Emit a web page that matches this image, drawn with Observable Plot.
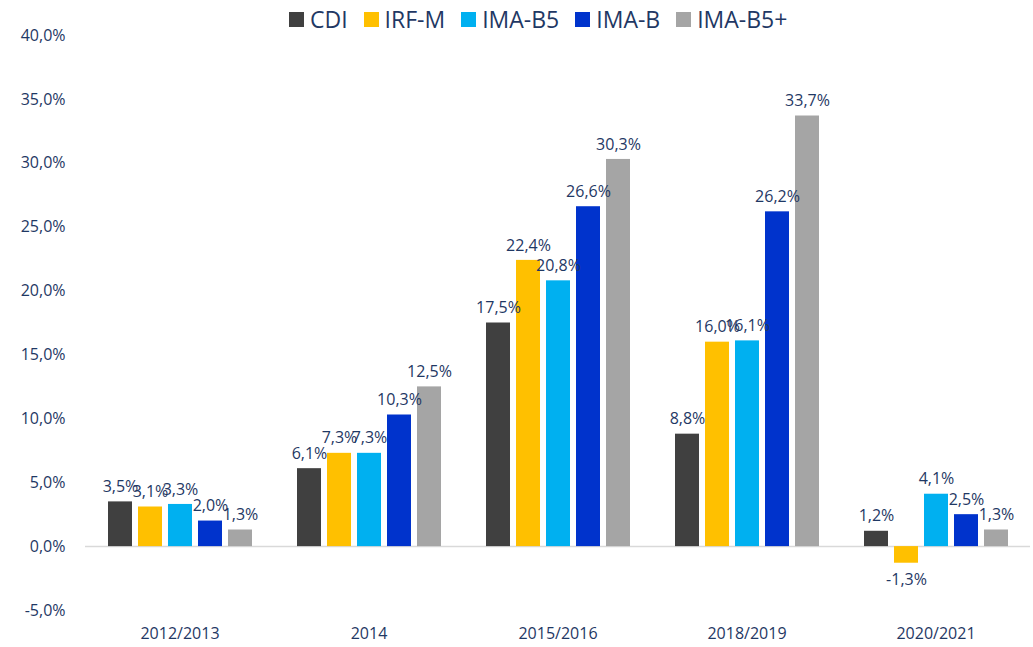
<!DOCTYPE html>
<html>
<head>
<meta charset="utf-8">
<script src="https://cdn.jsdelivr.net/npm/d3@7"></script>
<script src="https://cdn.jsdelivr.net/npm/@observablehq/plot@0.6"></script>
<style>
  html, body { margin: 0; padding: 0; background: #fff; }
  #wrap { position: relative; width: 1033px; height: 647px; font-family: "Open Sans", "Noto Sans", sans-serif; }
  #legend { position: absolute; top: 3px; left: 289px; display: flex; gap: 16px; color: #1F3864; font-size: 23px; }
  #legend .item { display: flex; align-items: center; gap: 6px; }
  #legend .sw { width: 15px; height: 15px; display: inline-block; }
</style>
</head>
<body>
<div id="wrap"><div id="legend"></div><div id="chart"></div></div>
<script>
const categories = ["2012/2013", "2014", "2015/2016", "2018/2019", "2020/2021"];
const seriesNames = ["CDI", "IRF-M", "IMA-B5", "IMA-B", "IMA-B5+"];
const colors = ["#404040", "#FFC000", "#00B0F0", "#0033CC", "#A5A5A5"];
const cdi    = [3.5, 6.1, 17.5, 8.8, 1.2];
const irfm   = [3.1, 7.3, 22.4, 16.0, -1.3];
const imab5  = [3.3, 7.3, 20.8, 16.1, 4.1];
const imab   = [2.0, 10.3, 26.6, 26.2, 2.5];
const imab5p = [1.3, 12.5, 30.3, 33.7, 1.3];
const yTicks = [-5, 0, 5, 10, 15, 20, 25, 30, 35, 40];

const seriesValues = [cdi, irfm, imab5, imab, imab5p];
const data = [];
categories.forEach((c, i) => seriesNames.forEach((s, j) => data.push({cat: c, series: s, value: seriesValues[j][i]})));

const fmt1 = v => v.toFixed(1).replace(".", ",") + "%";
const navy = "#1F3864";

const legend = document.getElementById("legend");
seriesNames.forEach((s, j) => {
  const it = document.createElement("div");
  it.className = "item";
  it.innerHTML = `<span class="sw" style="background:${colors[j]}"></span><span>${s}</span>`;
  legend.appendChild(it);
});

const chart = Plot.plot({
  width: 1033,
  height: 647,
  marginTop: 35,
  marginBottom: 37,
  marginLeft: 83,
  marginRight: 1,
  style: {fontFamily: "'Open Sans', 'Noto Sans', sans-serif", fontSize: "16px", color: navy, background: "#fff"},
  fx: {domain: categories, padding: 0, label: null, tickSize: 0, tickPadding: 17},
  x: {domain: seriesNames, axis: null, paddingInner: 0.2, paddingOuter: 0.75},
  y: {domain: [-5, 40], ticks: yTicks, tickFormat: fmt1, tickSize: 0, tickPadding: 20, label: null, line: false},
  color: {domain: seriesNames, range: colors},
  marks: [
    Plot.ruleY([0], {stroke: "#D9D9D9", strokeWidth: 1.5}),
    Plot.barY(data, {fx: "cat", x: "series", y: "value", fill: "series"}),
    Plot.text(data.filter(d => d.value >= 0), {fx: "cat", x: "series", y: "value", text: d => fmt1(d.value), dy: -15, fill: navy, fontSize: 16}),
    Plot.text(data.filter(d => d.value < 0), {fx: "cat", x: "series", y: "value", text: d => fmt1(d.value), dy: 17, fill: navy, fontSize: 16})
  ]
});
document.getElementById("chart").appendChild(chart);
</script>
</body>
</html>
